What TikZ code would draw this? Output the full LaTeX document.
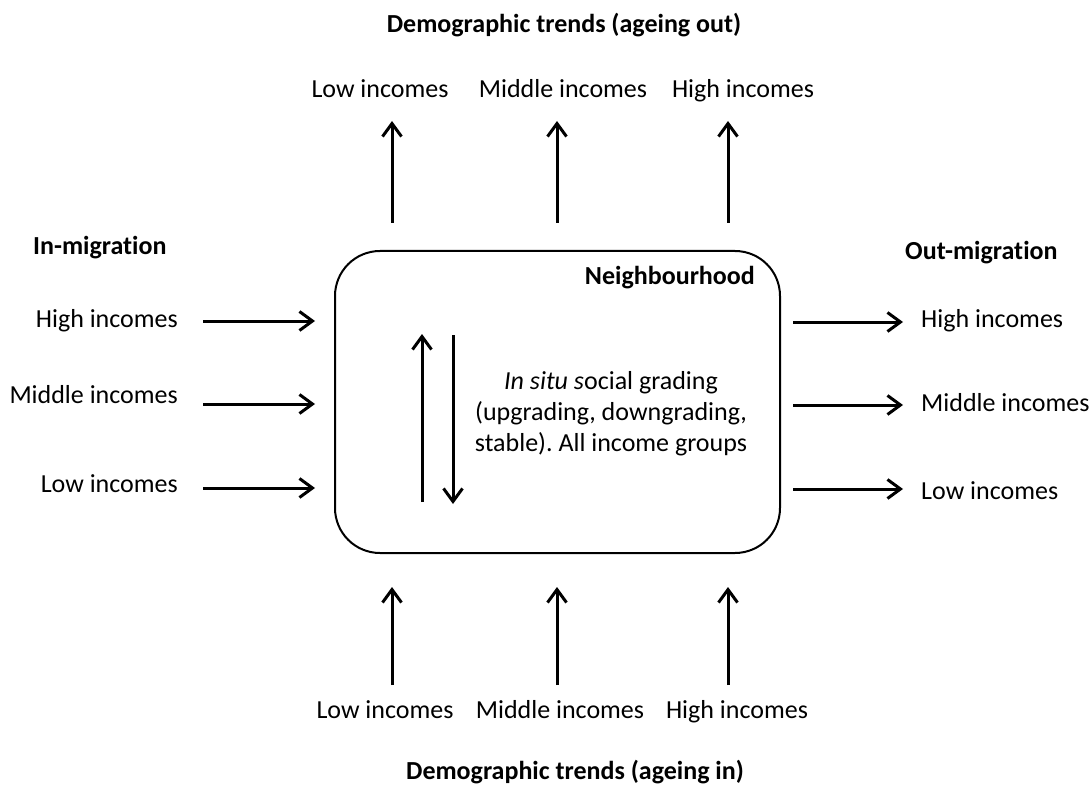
\documentclass[tikz,border=0pt]{standalone}
\usepackage{fontspec}
\setmainfont{Carlito}[Ligatures=NoCommon]
\usetikzlibrary{arrows.meta}
\frenchspacing
\begin{document}
\begin{tikzpicture}[x=1pt,y=-1pt,
  lbl/.style={font=\fontsize{26}{31}\selectfont, inner sep=0pt},
  ttl/.style={font=\fontsize{26}{31}\selectfont\bfseries, inner sep=0pt},
  arr/.style={line width=3pt, -{Straight Barb[length=13pt,width=19pt,line width=3pt]}},
  boxst/.style={draw, line width=2pt, rounded corners=45pt}]
\useasboundingbox (0,0) rectangle (1092,786);
% box
\node[boxst, minimum width=445pt, minimum height=302pt, anchor=north west] (box) at (334,250) {};
\node[ttl, anchor=base east] (nb) at (755,284) {Neighbourhood};
% titles
\node[ttl, anchor=base] (tout) at (564,33) {Demographic trends (ageing out)};
\node[ttl, anchor=base] (tin) at (575,779) {Demographic trends (ageing in)};
\node[ttl, anchor=base west] (inm) at (33,255) {In-migration};
\node[ttl, anchor=base west] (outm) at (905,260) {Out-migration};
% top
\node[lbl, anchor=base] (tl) at (380,98) {Low incomes};
\node[lbl, anchor=base] (tm) at (563,98) {Middle incomes};
\node[lbl, anchor=base] (th) at (743,98) {High incomes};
\coordinate (tla) at (392,223); \coordinate (tlb) at (392,121);
\coordinate (tma) at (557,223); \coordinate (tmb) at (557,121);
\coordinate (tha) at (728,223); \coordinate (thb) at (728,121);
\draw[arr] (tla) -- (tlb);
\draw[arr] (tma) -- (tmb);
\draw[arr] (tha) -- (thb);
% bottom
\node[lbl, anchor=base] (bl) at (385,718) {Low incomes};
\node[lbl, anchor=base] (bm) at (560,718) {Middle incomes};
\node[lbl, anchor=base] (bh) at (737,718) {High incomes};
\coordinate (bla) at (392,685); \coordinate (blb) at (392,587);
\coordinate (bma) at (557,685); \coordinate (bmb) at (557,587);
\coordinate (bha) at (728,685); \coordinate (bhb) at (728,587);
\draw[arr] (bla) -- (blb);
\draw[arr] (bma) -- (bmb);
\draw[arr] (bha) -- (bhb);
% left
\node[lbl, anchor=base east] (lh) at (178,327) {High incomes};
\node[lbl, anchor=base east] (lm) at (178,403) {Middle incomes};
\node[lbl, anchor=base east] (ll) at (178,492) {Low incomes};
\coordinate (lha) at (203,321); \coordinate (lhb) at (315,321);
\coordinate (lma) at (203,404); \coordinate (lmb) at (315,404);
\coordinate (lla) at (203,488); \coordinate (llb) at (315,488);
\draw[arr] (lha) -- (lhb);
\draw[arr] (lma) -- (lmb);
\draw[arr] (lla) -- (llb);
% right
\node[lbl, anchor=base west] (rh) at (921,327) {High incomes};
\node[lbl, anchor=base west] (rm) at (921,411) {Middle incomes};
\node[lbl, anchor=base west] (rl) at (921,499) {Low incomes};
\coordinate (rha) at (793,322); \coordinate (rhb) at (903,322);
\coordinate (rma) at (793,405); \coordinate (rmb) at (903,405);
\coordinate (rla) at (793,489); \coordinate (rlb) at (903,489);
\draw[arr] (rha) -- (rhb);
\draw[arr] (rma) -- (rmb);
\draw[arr] (rla) -- (rlb);
% inner
\coordinate (ua) at (422,502); \coordinate (ub) at (422,334);
\coordinate (da) at (453,335); \coordinate (db) at (453,504);
\draw[arr] (ua) -- (ub);
\draw[arr] (da) -- (db);
\node[lbl, align=center, anchor=base] (ctext) at (611,451) {\textit{In situ s}ocial grading\\(upgrading, downgrading,\\stable). All income groups};
\end{tikzpicture}
\end{document}
